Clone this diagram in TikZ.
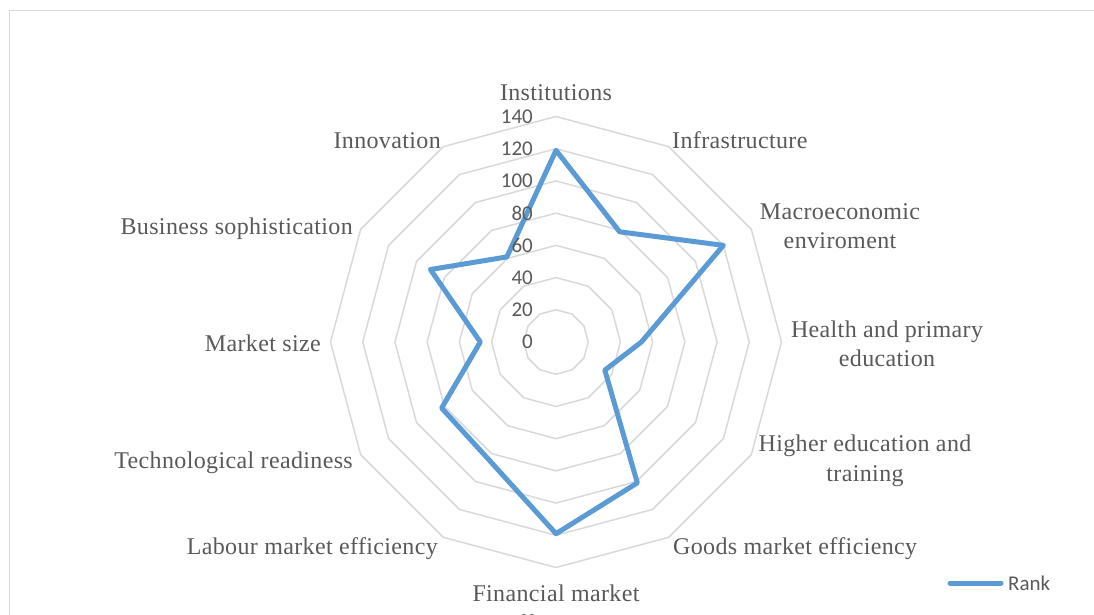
\documentclass[tikz,border=0pt]{standalone}
\usepackage{fontspec}
\setmainfont[LetterSpace=1.5]{Liberation Serif}
\newfontfamily\calib{Carlito}
\definecolor{ringgray}{HTML}{D9D9D9}
\definecolor{txtgray}{HTML}{595959}
\definecolor{rankblue}{HTML}{5B9BD5}
\begin{document}
\begin{tikzpicture}[x=1pt,y=-1pt,
  cat/.style={font=\fontsize{24}{29.5}\selectfont, text=txtgray, inner sep=0pt, align=center},
  num/.style={font=\calib\fontsize{21}{24}\selectfont, text=txtgray, anchor=east, inner sep=0pt},
  ring/.style={draw=ringgray, line width=1.5pt, line join=round},
  series/.style={draw=rankblue, line width=5pt, line join=round, line cap=round}]
\useasboundingbox (0,0) rectangle (1094,615);
\clip (0,0) rectangle (1094,615);
\draw[ringgray, line width=1.5pt] (9.5,10.5) rectangle (1110,640);
\def\u{1.6107}
\begin{scope}[shift={(556,342)}, yscale=-1]
  \foreach \k in {20,40,...,140} {
    \draw[ring] (90:\k*\u) -- (60:\k*\u) -- (30:\k*\u) -- (0:\k*\u) -- (-30:\k*\u)
      -- (-60:\k*\u) -- (-90:\k*\u) -- (-120:\k*\u) -- (-150:\k*\u) -- (180:\k*\u)
      -- (150:\k*\u) -- (120:\k*\u) -- cycle;
  }
  \coordinate (p1) at (90:119*\u);
  \coordinate (p2) at (60:79*\u);
  \coordinate (p3) at (30:120*\u);
  \coordinate (p4) at (0:53*\u);
  \coordinate (p5) at (-30:35*\u);
  \coordinate (p6) at (-60:101*\u);
  \coordinate (p7) at (-90:119*\u);
  \coordinate (p8) at (-120:84*\u);
  \coordinate (p9) at (-150:82*\u);
  \coordinate (p10) at (180:47*\u);
  \coordinate (p11) at (150:90*\u);
  \coordinate (p12) at (120:61*\u);
  \draw[series] (p1) -- (p2) -- (p3) -- (p4) -- (p5) -- (p6) -- (p7) -- (p8)
    -- (p9) -- (p10) -- (p11) -- (p12) -- cycle;
  \foreach \v in {0,20,...,140} {
    \node[num] (n\v) at (-23,\v*\u) {\v};
  }
\end{scope}
% category labels
\node[cat, anchor=base] (institutions) at (556,101) {Institutions};
\node[cat, anchor=base west] (infra) at (672,148) {Infrastructure};
\node[cat, anchor=base east] (innov) at (441,148) {Innovation};
\node[cat] (macro) at (840,226) {Macroeconomic\\enviroment};
\node[cat, anchor=base east] (business) at (353,234) {Business sophistication};
\node[cat] (health) at (887,344) {Health and primary\\education};
\node[cat, anchor=base east] (msize) at (321,351) {Market size};
\node[cat] (higher) at (865,461) {Higher education and\\training};
\node[cat, anchor=base east] (tech) at (353,468) {Technological readiness};
\node[cat, anchor=base west] (goods) at (673,554) {Goods market efficiency};
\node[cat, anchor=base east] (labour) at (438,554) {Labour market efficiency};
\node[cat, anchor=north] (financial) at (556,585) {Financial market\\efficiency};
% legend
\coordinate (l1) at (950,583);
\coordinate (l2) at (1001,583);
\draw[series] (l1) -- (l2);
\node[num, anchor=west] (rank) at (1008,583) {Rank};
\end{tikzpicture}
\end{document}
